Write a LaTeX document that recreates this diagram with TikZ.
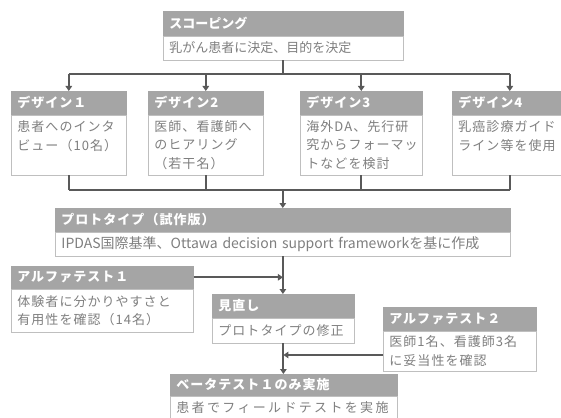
\documentclass[tikz,border=0pt]{standalone}
\usepackage{fontspec}
\setmainfont{Noto Sans CJK JP}
\newfontfamily\jsp[LetterSpace=8]{Noto Sans CJK JP}
\newfontfamily\jspw[LetterSpace=18]{Noto Sans CJK JP}
\usetikzlibrary{arrows.meta}
\definecolor{hdrgray}{HTML}{A5A5A5}
\definecolor{bordergray}{HTML}{BFBFBF}
\definecolor{txtgray}{HTML}{7F7F7F}
\definecolor{linegray}{HTML}{595959}
\tikzset{
  hdr/.style={fill=hdrgray, draw=hdrgray, line width=0.6pt, text=white, anchor=north west,
    inner xsep=6pt, inner ysep=0pt, align=left,
    font=\fontsize{13}{16}\selectfont\jsp\bfseries},
  bdy/.style={fill=white, draw=bordergray, line width=0.8pt, text=txtgray, anchor=north west,
    inner xsep=6pt, inner ysep=0pt, align=left,
    font=\fontsize{13}{18.5}\selectfont\jsp},
  conn/.style={draw=linegray, line width=2pt},
  arr/.style={conn, -{Triangle[width=6.5pt,length=5pt]}},
}
\begin{document}
\begin{tikzpicture}[x=1pt,y=-1pt]
\useasboundingbox (0,0) rectangle (561,417);
\clip (0,0) rectangle (561,417);
\fill[white] (0,0) rectangle (561,417);
% Scoping
\node[hdr, text width=228pt, minimum height=24pt, font=\fontsize{13}{16}\selectfont\rmfamily\bfseries] (scH) at (163,11) {スコーピング};
\node[bdy, text width=228pt, minimum height=24pt, font=\fontsize{13}{16}\selectfont\rmfamily] (scB) at (scH.south west) {乳がん患者に決定、目的を決定};
% Designs
\node[hdr, text width=103pt, minimum height=23pt] (d1H) at (11,91) {デザイン１};
\node[bdy, text width=103pt, minimum height=60pt] (d1B) at (d1H.south west) {患者へのインタ\\ビュー（10名）\\\mbox{}};
\node[hdr, text width=103pt, minimum height=23pt] (d2H) at (148,91) {デザイン2};
\node[bdy, text width=103pt, minimum height=60pt] (d2B) at (d2H.south west) {医師、看護師へ\\のヒアリング\\（若干名）};
\node[hdr, text width=110pt, minimum height=23pt] (d3H) at (300,91) {デザイン3};
\node[bdy, text width=110pt, minimum height=60pt] (d3B) at (d3H.south west) {海外DA、先行研\\究からフォーマッ\\トなどを検討};
\node[hdr, text width=103pt, minimum height=23pt] (d4H) at (452,91) {デザイン4};
\node[bdy, text width=103pt, minimum height=60pt] (d4B) at (d4H.south west) {乳癌診療ガイド\\ライン等を使用\\\mbox{}};
% Prototype
\node[hdr, text width=443pt, minimum height=23pt] (prH) at (55,208) {プロトタイプ（試作版）};
\node[bdy, text width=443pt, minimum height=24pt, font=\fontsize{14}{16}\selectfont\rmfamily] (prB) at (prH.south west) {IPDAS国際基準、Ottawa decision support frameworkを基に作成};
% Alpha test 1
\node[hdr, text width=170pt, minimum height=22pt] (a1H) at (11,266) {アルファテスト１};
\node[bdy, text width=170pt, minimum height=43pt] (a1B) at (a1H.south west) {体験者に分かりやすさと\\有用性を確認（14名）};
% Review
\node[hdr, text width=130pt, minimum height=23pt] (mnH) at (212,294) {見直し};
\node[bdy, text width=130pt, minimum height=25pt] (mnB) at (mnH.south west) {プロトタイプの修正};
% Alpha test 2
\node[hdr, text width=141pt, minimum height=23pt] (a2H) at (383,307) {アルファテスト２};
\node[bdy, text width=141pt, minimum height=40pt] (a2B) at (a2H.south west) {医師1名、看護師3名\\に妥当性を確認};
% Beta
\node[hdr, text width=215pt, minimum height=21pt] (btH) at (170,374) {ベータテスト１のみ実施};
\node[bdy, text width=215pt, minimum height=24pt, font=\fontsize{13}{16}\selectfont\jspw] (btB) at (btH.south west) {患者でフィールドテストを実施};
% connectors
\coordinate (busA) at (0,74);
\coordinate (busB) at (0,190);
\coordinate (a2y) at (0,355);
\draw[conn] (scB.south) -- (scB.south |- busA);
\draw[conn] (d1H.north |- busA) -- (d4H.north |- busA);
\foreach \d in {d1H,d2H,d3H,d4H} \draw[arr] (\d.north |- busA) -- (\d.north);
\foreach \d in {d1B,d2B,d3B,d4B} \draw[conn] (\d.south) -- (\d.south |- busB);
\draw[conn] (d1B.south |- busB) -- (d4B.south |- busB);
\draw[arr] (prH.north |- busB) -- (prH.north);
\draw[arr] (prB.south) -- (prB.south |- mnH.north);
\draw[arr] (a1H.east) -- (a1H.east -| prB.south);
\draw[arr] (mnB.south) -- (mnB.south |- btH.north);
\draw[arr] (a2y -| a2B.west) -- (a2y -| mnB.south);
\end{tikzpicture}
\end{document}
